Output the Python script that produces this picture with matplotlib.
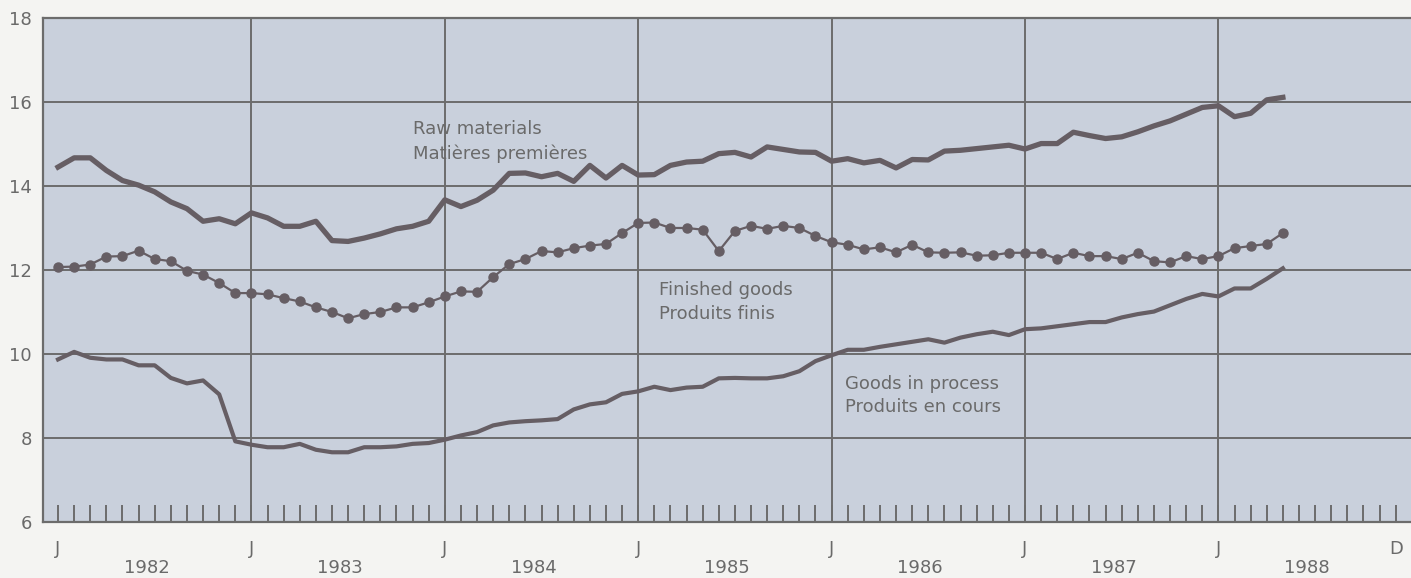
import matplotlib
matplotlib.use('Agg')
import matplotlib.pyplot as plt
import numpy as np

# monthly data, Jan 1982 .. May 1988
raw_materials = [
    14.45, 14.67, 14.67, 14.37, 14.13, 14.02, 13.86, 13.62, 13.46, 13.16, 13.22, 13.10,
    13.36, 13.24, 13.04, 13.04, 13.16, 12.70, 12.68, 12.76, 12.86, 12.98, 13.04, 13.16,
    13.67, 13.51, 13.66, 13.90, 14.30, 14.31, 14.22, 14.30, 14.11, 14.49, 14.19, 14.49,
    14.26, 14.27, 14.49, 14.57, 14.59, 14.77, 14.80, 14.69, 14.93, 14.87, 14.81, 14.80,
    14.59, 14.65, 14.55, 14.61, 14.43, 14.63, 14.62, 14.83, 14.85, 14.89, 14.93, 14.97,
    14.88, 15.01, 15.01, 15.28, 15.20, 15.13, 15.17, 15.29, 15.43, 15.55, 15.71, 15.87,
    15.91, 15.65, 15.73, 16.05, 16.11,
]
finished_goods = [
    12.07, 12.08, 12.13, 12.32, 12.33, 12.46, 12.26, 12.21, 11.98, 11.89, 11.69, 11.45,
    11.45, 11.42, 11.33, 11.25, 11.11, 11.00, 10.85, 10.95, 11.00, 11.11, 11.11, 11.23,
    11.37, 11.49, 11.48, 11.83, 12.14, 12.26, 12.45, 12.42, 12.52, 12.58, 12.62, 12.88,
    13.12, 13.13, 13.00, 13.00, 12.96, 12.45, 12.93, 13.05, 12.98, 13.05, 13.00, 12.81,
    12.66, 12.60, 12.49, 12.54, 12.42, 12.60, 12.42, 12.41, 12.42, 12.34, 12.35, 12.41,
    12.41, 12.41, 12.26, 12.41, 12.33, 12.33, 12.26, 12.41, 12.21, 12.18, 12.33, 12.26,
    12.33, 12.52, 12.57, 12.62, 12.88,
]
goods_in_process = [
    9.87, 10.05, 9.91, 9.87, 9.87, 9.73, 9.73, 9.43, 9.30, 9.37, 9.04, 7.92,
    7.84, 7.78, 7.78, 7.86, 7.72, 7.66, 7.66, 7.78, 7.78, 7.80, 7.86, 7.88,
    7.96, 8.06, 8.14, 8.30, 8.37, 8.40, 8.42, 8.45, 8.68, 8.80, 8.85, 9.05,
    9.11, 9.22, 9.14, 9.20, 9.22, 9.42, 9.43, 9.42, 9.42, 9.47, 9.59, 9.83,
    9.97, 10.10, 10.10, 10.17, 10.23, 10.29, 10.35, 10.27, 10.39, 10.47, 10.53, 10.45,
    10.59, 10.61, 10.66, 10.71, 10.76, 10.76, 10.87, 10.95, 11.01, 11.16, 11.31, 11.43,
    11.37, 11.56, 11.56, 11.79, 12.04,
]
years = ['1982', '1983', '1984', '1985', '1986', '1987', '1988']
month_labels = ['J', 'J', 'J', 'J', 'J', 'J', 'J', 'D']
y_ticks = [6, 8, 10, 12, 14, 16, 18]

line_col = '#665e64'
grid_col = '#6c6c6c'
text_col = '#6a6a6a'
plt.rcParams['font.family'] = ['DejaVu Sans']

fig = plt.figure(figsize=(14.11, 5.78), dpi=100, facecolor='#f4f4f2')
ax = fig.add_axes([0.0305, 0.0969, 0.9695, 0.872])
ax.set_facecolor('#c9d0dc')

months = np.arange(len(raw_materials))
n_months = len(years) * 12

# grid
for v in y_ticks[1:-1]:
    ax.axhline(v, color=grid_col, lw=1.4, zorder=1)
for k in range(1, len(years)):
    ax.axvline(k * 12, color=grid_col, lw=1.4, zorder=1)

ax.plot(months, raw_materials, color=line_col, lw=3.8, solid_joinstyle='round', zorder=3)
ax.plot(months, goods_in_process, color=line_col, lw=3.0, solid_joinstyle='round', zorder=3)
ax.plot(months, finished_goods, color=line_col, lw=1.6, marker='o', ms=6.5, zorder=3)

ax.set_xlim(-0.93, 83.95)
ax.set_ylim(6, 18)

ax.set_yticks(y_ticks)
ax.tick_params(axis='y', length=0, pad=8, labelsize=13, labelcolor=text_col)

jd_pos = [k * 12 for k in range(len(years))] + [n_months - 1]
ax.xaxis.remove_overlapping_locs = False
ax.set_xticks(jd_pos)
ax.set_xticklabels(month_labels)
ax.set_xticks(np.arange(n_months), minor=True)
ax.tick_params(axis='x', which='major', length=0, pad=13, labelsize=13, labelcolor=text_col)
ax.tick_params(axis='x', which='minor', direction='in', length=12, width=1.4, color=grid_col)

xt = ax.get_xaxis_transform()
for k, yr in enumerate(years):
    ax.text(k * 12 + 5.5, -0.092, yr, transform=xt, ha='center', va='center',
            fontsize=13, color=text_col)

for s in ['left', 'bottom', 'top']:
    ax.spines[s].set_color(grid_col)
    ax.spines[s].set_linewidth(1.6)
ax.spines['right'].set_visible(False)

ax.text(22.0, 15.56, 'Raw materials\nMatières premières', ha='left', va='top',
        fontsize=13, color=text_col, linespacing=1.42)
ax.text(37.3, 11.74, 'Finished goods\nProduits finis', ha='left', va='top',
        fontsize=13, color=text_col, linespacing=1.42)
ax.text(48.8, 9.51, 'Goods in process\nProduits en cours', ha='left', va='top',
        fontsize=13, color=text_col, linespacing=1.42)

fig.savefig('out.png', dpi=100, facecolor=fig.get_facecolor())
